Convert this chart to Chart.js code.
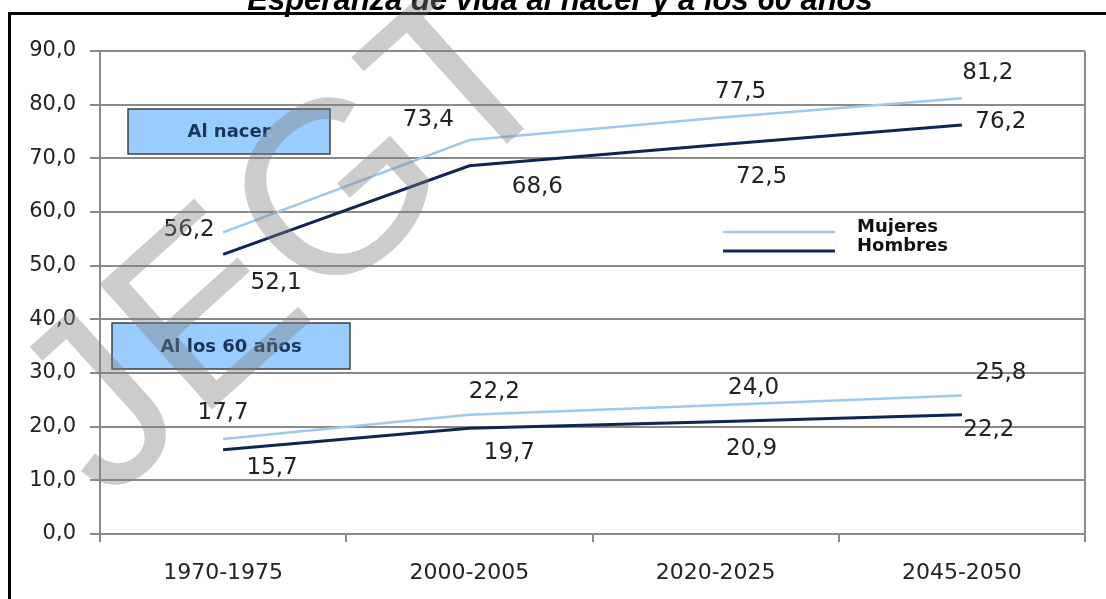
<!DOCTYPE html>
<html>
<head>
<meta charset="utf-8">
<script src="https://cdn.jsdelivr.net/npm/chart.js@4/dist/chart.umd.min.js"></script>
<style>
  html, body { margin: 0; padding: 0; background: #fff; }
  #wrap { width: 1106px; height: 599px; }
</style>
</head>
<body>
<div id="wrap"><canvas id="chart" width="1106" height="599"></canvas></div>
<script>
// datos
const categories = ['1970-1975', '2000-2005', '2020-2025', '2045-2050'];
const mujeresNacer = [56.2, 73.4, 77.5, 81.2];
const hombresNacer = [52.1, 68.6, 72.5, 76.2];
const mujeres60 = [17.7, 22.2, 24.0, 25.8];
const hombres60 = [15.7, 19.7, 20.9, 22.2];
const yMin = 0, yMax = 90, yStep = 10;

// desplazamiento de cada etiqueta respecto a su punto (px)
const shiftMujeresNacer = [[-34, -2], [-41, -20], [25, -26], [26, -25]];
const shiftHombresNacer = [[53, 29], [68, 21], [46, 32], [39, -3]];
const shiftMujeres60 = [[0, -26], [25, -23], [38, -17], [39, -23]];
const shiftHombres60 = [[49, 18], [40, 25], [36, 27], [27, 15]];

const cMujeres = '#9ec9ef';
const cHombres = '#0f2552';
const gridColor = '#8a8a8a';
const numFont = 'DejaVu Sans';

const fmt = v => v.toFixed(1).replace('.', ',');

const decor = {
  id: 'decor',
  afterDraw(chart) {
    const { ctx, chartArea: a } = chart;
    ctx.save();

    // borde derecho del área de trazado
    ctx.strokeStyle = gridColor;
    ctx.lineWidth = 2;
    ctx.beginPath();
    ctx.moveTo(a.right, a.top);
    ctx.lineTo(a.right, a.bottom + 8);
    ctx.stroke();

    // cuadros
    const box = (x1, y1, x2, y2, txt) => {
      ctx.fillStyle = '#99ccff';
      ctx.fillRect(x1, y1, x2 - x1, y2 - y1);
      ctx.strokeStyle = '#404040';
      ctx.lineWidth = 1.5;
      ctx.strokeRect(x1, y1, x2 - x1, y2 - y1);
      ctx.fillStyle = '#17365d';
      ctx.font = 'bold 18px "DejaVu Sans"';
      ctx.textAlign = 'center';
      ctx.textBaseline = 'middle';
      ctx.fillText(txt, (x1 + x2) / 2, (y1 + y2) / 2 + 1);
    };
    box(a.left + 28, 109, a.left + 230, 154, 'Al nacer');
    box(a.left + 12, 323, a.left + 250, 369, 'Al los 60 años');

    // etiquetas de datos
    const shifts = [shiftMujeresNacer, shiftHombresNacer, shiftMujeres60, shiftHombres60];
    ctx.fillStyle = '#222';
    ctx.font = '23px "' + numFont + '"';
    ctx.textAlign = 'center';
    ctx.textBaseline = 'middle';
    chart.data.datasets.forEach((ds, di) => {
      const meta = chart.getDatasetMeta(di);
      meta.data.forEach((pt, i) => {
        const [dx, dy] = shifts[di][i];
        ctx.fillText(fmt(ds.data[i]), pt.x + dx, pt.y + dy);
      });
    });

    // leyenda
    const leg = [['Mujeres', cMujeres, 232, 2.5], ['Hombres', cHombres, 251, 3]];
    ctx.font = 'bold 18px "DejaVu Sans"';
    ctx.textAlign = 'left';
    leg.forEach(([t, c, yy, w]) => {
      ctx.strokeStyle = c;
      ctx.lineWidth = w;
      ctx.beginPath();
      ctx.moveTo(723, yy);
      ctx.lineTo(835, yy);
      ctx.stroke();
      ctx.fillStyle = '#111';
      ctx.fillText(t, 857, yy - 5);
    });

    // título (cortado arriba)
    ctx.fillStyle = '#000';
    ctx.font = 'italic bold 31px "Liberation Sans"';
    ctx.textAlign = 'center';
    ctx.textBaseline = 'alphabetic';
    ctx.fillText('Esperanza de vida al nacer y a los 60 años', 560, 10);

    // marco
    ctx.strokeStyle = '#000';
    ctx.lineWidth = 3;
    ctx.beginPath();
    ctx.moveTo(1106, 13.5);
    ctx.lineTo(9.5, 13.5);
    ctx.lineTo(9.5, 599);
    ctx.stroke();

    // marca de agua
    ctx.translate(106, 505);
    ctx.rotate(-42 * Math.PI / 180);
    ctx.fillStyle = 'rgba(128,128,128,0.4)';
    ctx.font = '245px "Liberation Sans"';
    ctx.textAlign = 'left';
    ctx.fillText('JEGT', 0, 0);

    ctx.restore();
  }
};

const ctx = document.getElementById('chart').getContext('2d');
new Chart(ctx, {
  type: 'line',
  data: {
    labels: categories,
    datasets: [
      { label: 'Mujeres', data: mujeresNacer, borderColor: cMujeres, borderWidth: 2.5 },
      { label: 'Hombres', data: hombresNacer, borderColor: cHombres, borderWidth: 3 },
      { label: 'Mujeres 60', data: mujeres60, borderColor: cMujeres, borderWidth: 2.5 },
      { label: 'Hombres 60', data: hombres60, borderColor: cHombres, borderWidth: 3 }
    ].map(d => Object.assign(d, { pointRadius: 0, tension: 0, fill: false }))
  },
  options: {
    responsive: false,
    animation: false,
    layout: { padding: { top: 51, right: 21, left: 10, bottom: 0 } },
    plugins: {
      legend: { display: false },
      tooltip: { enabled: false }
    },
    scales: {
      x: {
        offset: true,
        grid: { offset: true, drawOnChartArea: false, tickLength: 8, color: gridColor, lineWidth: 2 },
        border: { color: gridColor, width: 2 },
        ticks: { color: '#222', font: { family: numFont, size: 22 }, padding: 18, maxRotation: 0 },
        afterFit(s) { s.height = 65; }
      },
      y: {
        min: yMin,
        max: yMax,
        ticks: { stepSize: yStep, callback: v => fmt(v), color: '#222', font: { family: numFont, size: 21 }, padding: 14 },
        grid: { color: gridColor, lineWidth: 2, tickLength: 10 },
        border: { color: gridColor, width: 2 },
        afterFit(s) { s.width = 90; }
      }
    }
  },
  plugins: [decor]
});
</script>
</body>
</html>
